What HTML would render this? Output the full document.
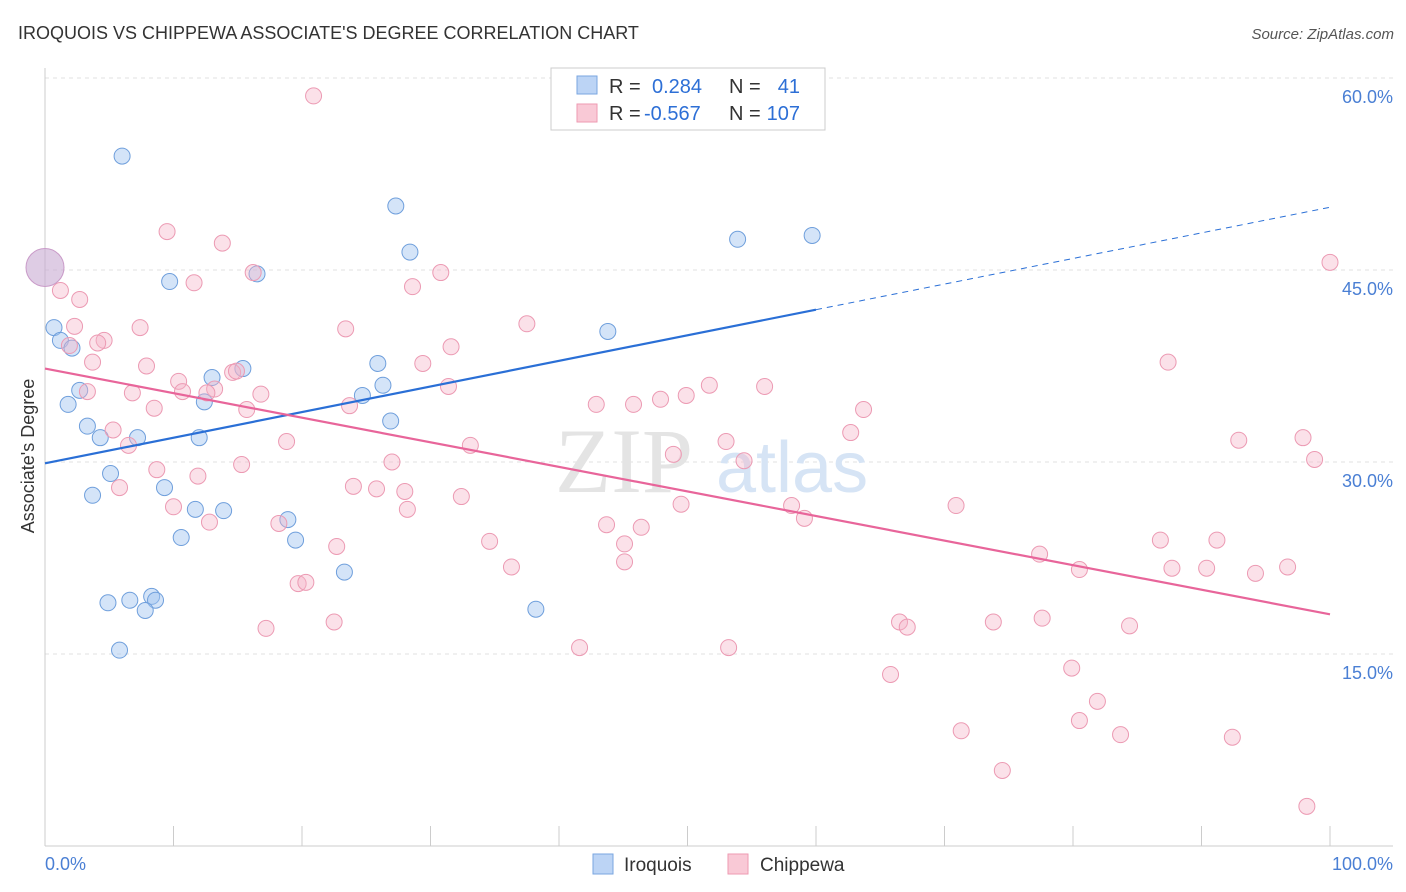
<!DOCTYPE html>
<html><head><meta charset="utf-8"><style>
body{margin:0;background:#fff;font-family:"Liberation Sans",sans-serif;}
svg{display:block}
</style></head><body>
<svg width="1406" height="892" xmlns="http://www.w3.org/2000/svg">
<text x="18" y="39" font-size="18" fill="#333">IROQUOIS VS CHIPPEWA ASSOCIATE'S DEGREE CORRELATION CHART</text>
<text x="1394" y="39" font-size="15" fill="#555" text-anchor="end" font-style="italic">Source: ZipAtlas.com</text>
<g id="grid"></g>
<g id="watermark">
<text x="555" y="492" font-size="92" fill="#e4e4e4" font-family="Liberation Serif,serif">ZIP</text>
<text x="716" y="492" font-size="72" fill="#d6e4f5">atlas</text>
</g>
<text transform="translate(34,456) rotate(-90)" font-size="18" fill="#333" text-anchor="middle">Associate's Degree</text>
<g id="marks"></g>
<g id="legend">
<rect x="551" y="68" width="274" height="62" fill="#fff" stroke="#ccc"/>
<rect x="577" y="76" width="20" height="18" fill="#bcd4f5" stroke="#7aa6e0"/>
<rect x="577" y="104" width="20" height="18" fill="#f9c9d6" stroke="#ee9ab2"/>
<text x="609" y="93" font-size="20" fill="#333">R =</text><text x="652" y="93" font-size="20" fill="#2d6fd6">0.284</text>
<text x="729" y="93" font-size="20" fill="#333">N =</text><text x="800" y="93" font-size="20" fill="#2d6fd6" text-anchor="end">41</text>
<text x="609" y="120" font-size="20" fill="#333">R =</text><text x="644" y="120" font-size="20" fill="#2d6fd6">-0.567</text>
<text x="729" y="120" font-size="20" fill="#333">N =</text><text x="800" y="120" font-size="20" fill="#2d6fd6" text-anchor="end">107</text>
</g>
<g>
<rect x="593" y="854" width="20" height="20" fill="#bcd4f5" stroke="#7aa6e0"/>
<text x="624" y="871" font-size="19" fill="#333">Iroquois</text>
<rect x="728" y="854" width="20" height="20" fill="#f9c9d6" stroke="#ee9ab2"/>
<text x="760" y="871" font-size="19" fill="#333">Chippewa</text>
</g>
<text x="45" y="870" font-size="18" fill="#4a7fd4">0.0%</text>
<text x="1393" y="870" font-size="18" fill="#4a7fd4" text-anchor="end">100.0%</text>
</svg>
<script>
const yTicks=[15,30,45,60];
const yTickLabels=["15.0%","30.0%","45.0%","60.0%"];
const xTicks=[0,10,20,30,40,50,60,70,80,90,100];
const iroX=[6.0,27.3,28.4,53.9,59.7,9.7,16.5,0.7,1.2,2.1,43.8,25.9,15.4,13.0,26.3,2.7,24.7,1.8,12.4,26.9,3.3,4.3,7.2,12.0,5.1,9.3,3.7,11.7,13.9,18.9,10.6,19.5,23.3,4.9,6.6,8.3,8.6,7.8,38.2,5.8];
const iroY=[53.9,50.0,46.4,47.4,47.7,44.1,44.7,40.5,39.5,38.9,40.2,37.7,37.3,36.6,36.0,35.6,35.2,34.5,34.7,33.2,32.8,31.9,31.9,31.9,29.1,28.0,27.4,26.3,26.2,25.5,24.1,23.9,21.4,19.0,19.2,19.5,19.2,18.4,18.5,15.3];
const chiX=[20.9,9.5,13.8,11.6,16.2,30.8,1.2,2.7,28.6,2.3,7.4,23.4,37.5,4.6,4.1,1.9,31.6,3.7,7.9,29.4,87.4,10.4,10.7,13.2,12.6,14.6,14.9,16.8,3.3,6.8,31.4,51.7,56.0,47.9,49.9,42.9,45.8,8.5,15.7,23.7,63.7,5.3,6.5,18.8,33.1,53.0,62.7,92.9,97.9,48.9,54.4,27.0,98.8,15.3,8.7,11.9,5.8,24.0,25.8,28.0,32.4,10.0,28.2,49.5,70.9,58.1,59.1,12.8,18.2,43.7,46.4,22.7,34.6,45.1,86.8,91.2,45.1,77.4,36.3,80.5,87.7,90.4,94.2,96.7,19.7,20.3,22.5,17.2,66.5,67.1,73.8,77.6,84.4,41.6,53.2,65.8,79.9,81.9,80.5,71.3,83.7,92.4,74.5,98.2,100];
const chiY=[58.6,48.0,47.1,44.0,44.8,44.8,43.4,42.7,43.7,40.6,40.5,40.4,40.8,39.5,39.3,39.1,39.0,37.8,37.5,37.7,37.8,36.3,35.5,35.7,35.4,37.0,37.1,35.3,35.5,35.4,35.9,36.0,35.9,34.9,35.2,34.5,34.5,34.2,34.1,34.4,34.1,32.5,31.3,31.6,31.3,31.6,32.3,31.7,31.9,30.6,30.1,30.0,30.2,29.8,29.4,28.9,28.0,28.1,27.9,27.7,27.3,26.5,26.3,26.7,26.6,26.6,25.6,25.3,25.2,25.1,24.9,23.4,23.8,23.6,23.9,23.9,22.2,22.8,21.8,21.6,21.7,21.7,21.3,21.8,20.5,20.6,17.5,17.0,17.5,17.1,17.5,17.8,17.2,15.5,15.5,13.4,13.9,11.3,9.8,9.0,8.7,8.5,5.9,3.1,45.6];
const bigPoint=[0,45.2];
const iroTrend=[29.9,49.9];
const chiTrend=[37.3,18.1];
const NS="http://www.w3.org/2000/svg";
const xs=v=>45+v*12.85, ys=v=>846-v*12.8;
function mk(t,a,p){const e=document.createElementNS(NS,t);for(const k in a)e.setAttribute(k,a[k]);p.appendChild(e);return e;}
const grid=document.getElementById('grid'), marks=document.getElementById('marks');
yTicks.forEach((t,i)=>{
 const l=mk('line',{x1:45,x2:1393,y1:ys(t),y2:ys(t),stroke:'#e2e2e2','stroke-dasharray':'4,4'},grid);
 
 
 const tx=mk('text',{x:1393,y:ys(t)+25,'font-size':18,fill:'#4a7fd4','text-anchor':'end'},grid);tx.textContent=yTickLabels[i];
 
 
});
const tl=mk('line',{x1:45,x2:1393,y1:ys(60),y2:ys(60),stroke:'#e2e2e2','stroke-dasharray':'4,4'},grid);
const ax=mk('line',{x1:45,x2:1393,y1:846,y2:846,stroke:'#ccc'},grid);


const ay=mk('line',{x1:45,x2:45,y1:68,y2:846,stroke:'#ccc'},grid);


xTicks.forEach(t=>{const l=mk('line',{x1:xs(t),x2:xs(t),y1:826,y2:846,stroke:'#ccc'},grid);
 
 });
iroX.forEach((x,i)=>{const c=mk('circle',{cx:xs(x),cy:ys(iroY[i]),r:8,fill:'rgba(160,196,240,0.45)',stroke:'#6f9fdc','stroke-width':1},marks);
 
 });
chiX.forEach((x,i)=>{const c=mk('circle',{cx:xs(x),cy:ys(chiY[i]),r:8,fill:'rgba(246,180,200,0.4)',stroke:'#ec9ab3','stroke-width':1},marks);
 
 });
const bp=mk('circle',{cx:xs(bigPoint[0]),cy:ys(bigPoint[1]),r:19,fill:'rgba(200,170,210,0.6)',stroke:'#c99ac8'},marks);


const sx=60;
const ib=mk('line',{x1:xs(0),y1:ys(iroTrend[0]),x2:xs(sx),y2:ys(iroTrend[0]+(iroTrend[1]-iroTrend[0])*sx/100),stroke:'#2a6fd6','stroke-width':2.2},marks);


const id=mk('line',{x1:xs(sx),y1:ys(iroTrend[0]+(iroTrend[1]-iroTrend[0])*sx/100),x2:xs(100),y2:ys(iroTrend[1]),stroke:'#2a6fd6','stroke-width':1,'stroke-dasharray':'6,5'},marks);


const cl=mk('line',{x1:xs(0),y1:ys(chiTrend[0]),x2:xs(100),y2:ys(chiTrend[1]),stroke:'#e8659a','stroke-width':2.2},marks);


</script>
</body></html>
